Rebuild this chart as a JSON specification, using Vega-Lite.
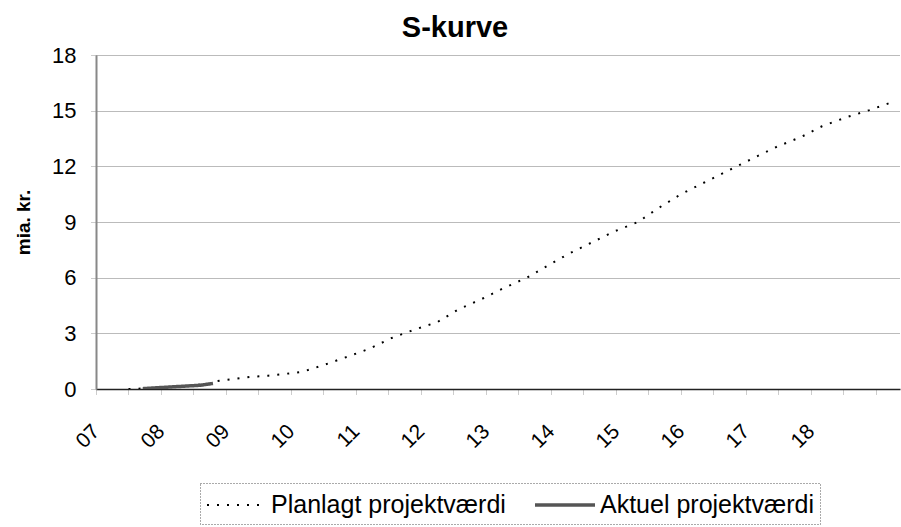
{
  "$schema": "https://vega.github.io/schema/vega-lite/v6.json",
  "width": 804,
  "height": 334,
  "autosize": "none",
  "padding": {"left": 96, "top": 55, "right": 1, "bottom": 138},
  "background": "white",
  "config": {
    "font": "Liberation Sans",
    "view": {"stroke": null}
  },
  "title": {
    "text": "S-kurve",
    "fontSize": 29,
    "fontWeight": "bold",
    "font": "Liberation Sans",
    "anchor": "middle",
    "dx": -43,
    "dy": 42,
    "baseline": "bottom",
    "offset": 14,
    "color": "#000"
  },
  "data": {
    "values": [
      {"serie": "Planlagt projektværdi", "aar": 7.5, "v": 0},
      {"serie": "Planlagt projektværdi", "aar": 7.75, "v": 0.03},
      {"serie": "Planlagt projektværdi", "aar": 8.0, "v": 0.08},
      {"serie": "Planlagt projektværdi", "aar": 8.25, "v": 0.14},
      {"serie": "Planlagt projektværdi", "aar": 8.5, "v": 0.2},
      {"serie": "Planlagt projektværdi", "aar": 8.8, "v": 0.3},
      {"serie": "Planlagt projektværdi", "aar": 8.86, "v": 0.43},
      {"serie": "Planlagt projektværdi", "aar": 9.38, "v": 0.65},
      {"serie": "Planlagt projektværdi", "aar": 9.65, "v": 0.72},
      {"serie": "Planlagt projektværdi", "aar": 10.0, "v": 0.85},
      {"serie": "Planlagt projektværdi", "aar": 10.17, "v": 0.92},
      {"serie": "Planlagt projektværdi", "aar": 10.51, "v": 1.3},
      {"serie": "Planlagt projektværdi", "aar": 10.86, "v": 1.73},
      {"serie": "Planlagt projektværdi", "aar": 11.2, "v": 2.16},
      {"serie": "Planlagt projektværdi", "aar": 11.55, "v": 2.75},
      {"serie": "Planlagt projektværdi", "aar": 11.9, "v": 3.2},
      {"serie": "Planlagt projektværdi", "aar": 12.25, "v": 3.6},
      {"serie": "Planlagt projektværdi", "aar": 12.58, "v": 4.3},
      {"serie": "Planlagt projektværdi", "aar": 12.94, "v": 4.86},
      {"serie": "Planlagt projektværdi", "aar": 13.28, "v": 5.45},
      {"serie": "Planlagt projektværdi", "aar": 13.63, "v": 6.0},
      {"serie": "Planlagt projektværdi", "aar": 13.95, "v": 6.65},
      {"serie": "Planlagt projektværdi", "aar": 14.28, "v": 7.3},
      {"serie": "Planlagt projektværdi", "aar": 14.63, "v": 7.9},
      {"serie": "Planlagt projektværdi", "aar": 14.98, "v": 8.5},
      {"serie": "Planlagt projektværdi", "aar": 15.34, "v": 9.0},
      {"serie": "Planlagt projektværdi", "aar": 15.63, "v": 9.7},
      {"serie": "Planlagt projektværdi", "aar": 16.0, "v": 10.5},
      {"serie": "Planlagt projektværdi", "aar": 16.4, "v": 11.2},
      {"serie": "Planlagt projektværdi", "aar": 16.83, "v": 11.95},
      {"serie": "Planlagt projektværdi", "aar": 17.17, "v": 12.54},
      {"serie": "Planlagt projektværdi", "aar": 17.49, "v": 13.08},
      {"serie": "Planlagt projektværdi", "aar": 17.86, "v": 13.6},
      {"serie": "Planlagt projektværdi", "aar": 18.17, "v": 14.16},
      {"serie": "Planlagt projektværdi", "aar": 18.55, "v": 14.65},
      {"serie": "Planlagt projektværdi", "aar": 18.9, "v": 15.03},
      {"serie": "Planlagt projektværdi", "aar": 19.25, "v": 15.46},
      {"serie": "Aktuel projektværdi", "aar": 7.72, "v": 0.02},
      {"serie": "Aktuel projektværdi", "aar": 8.2, "v": 0.12},
      {"serie": "Aktuel projektværdi", "aar": 8.6, "v": 0.2},
      {"serie": "Aktuel projektværdi", "aar": 8.8, "v": 0.3}
    ]
  },
  "mark": {"type": "line", "clip": true},
  "encoding": {
    "x": {
      "field": "aar",
      "type": "quantitative",
      "scale": {"domain": [7, 19.37], "nice": false, "zero": false},
      "axis": {
        "title": null,
        "values": [7, 7.5, 8, 8.5, 9, 9.5, 10, 10.5, 11, 11.5, 12, 12.5, 13, 13.5, 14, 14.5, 15, 15.5, 16, 16.5, 17, 17.5, 18, 18.5, 19],
        "labelExpr": "(datum.value % 1 == 0 && datum.value <= 18) ? format(datum.value, '02d') : ''",
        "labelAngle": -45,
        "labelAlign": "right",
        "labelBaseline": "middle",
        "labelPadding": 34,
        "labelFontSize": 21,
        "labelColor": "#000",
        "labelFont": "Liberation Sans",
        "labelOverlap": false,
        "labelFlush": false,
        "grid": false,
        "domainColor": "#222",
        "domainWidth": 1.5,
        "tickColor": "#999",
        "tickSize": 5,
        "tickDash": [1, 1]
      }
    },
    "y": {
      "field": "v",
      "type": "quantitative",
      "scale": {"domain": [0, 18], "nice": false},
      "axis": {
        "title": "mia. kr.",
        "titleFontSize": 19,
        "titleFontWeight": "bold",
        "titleColor": "#000",
        "titleFont": "Liberation Sans",
        "titlePadding": 18,
        "values": [0, 3, 6, 9, 12, 15, 18],
        "labelFontSize": 22,
        "labelColor": "#000",
        "labelFont": "Liberation Sans",
        "labelPadding": 15,
        "grid": true,
        "gridColor": "#777",
        "gridDash": [1, 1],
        "gridWidth": 1,
        "domainColor": "#888",
        "domainWidth": 2,
        "tickColor": "#999",
        "tickSize": 5,
        "tickDash": [1, 1]
      }
    },
    "color": {
      "field": "serie",
      "type": "nominal",
      "scale": {"domain": ["Planlagt projektværdi", "Aktuel projektværdi"], "range": ["#000000", "#555555"]},
      "legend": {
        "title": null,
        "orient": "none",
        "legendX": 104,
        "legendY": 428,
        "direction": "horizontal",
        "symbolType": "stroke",
        "symbolSize": 3600,
        "symbolStrokeWidth": 2,
        "labelFontSize": 25,
        "labelFont": "Liberation Sans",
        "labelColor": "#000",
        "labelOffset": 3,
        "labelLimit": 400,
        "columnPadding": 22,
        "padding": 6,
        "strokeColor": "#555",
        "fillColor": "white",
        "encode": {
          "legend": {"update": {"strokeDash": {"value": [1, 2]}}},
          "symbols": {"update": {"y": {"value": 16}}},
          "labels": {"update": {"y": {"value": 16}}}
        }
      }
    },
    "strokeDash": {
      "field": "serie",
      "type": "nominal",
      "scale": {"domain": ["Planlagt projektværdi", "Aktuel projektværdi"], "range": [[2, 8], [1, 0]]},
      "legend": null
    },
    "strokeWidth": {
      "field": "serie",
      "type": "nominal",
      "scale": {"domain": ["Planlagt projektværdi", "Aktuel projektværdi"], "range": [2, 3.5]},
      "legend": null
    }
  }
}
